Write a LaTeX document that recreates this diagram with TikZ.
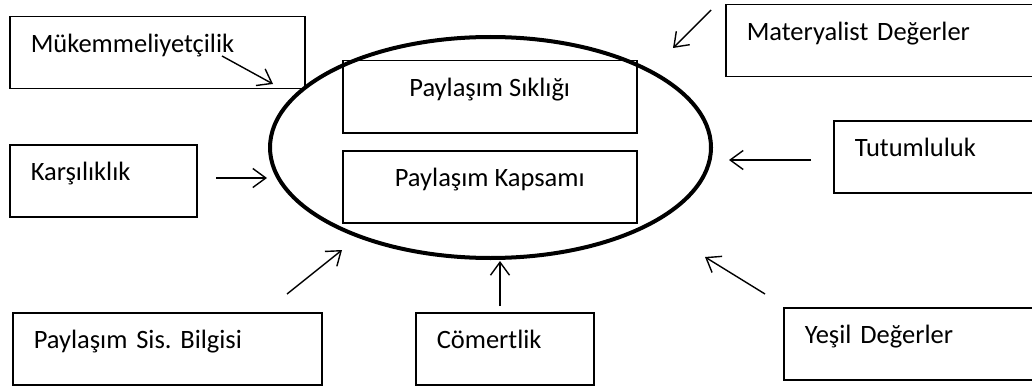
\documentclass[tikz,border=0pt]{standalone}
\usepackage{fontspec}
\setmainfont{Carlito}
\usepackage{tikz}
\usetikzlibrary{arrows.meta,shapes.geometric}

\tikzset{
  factor/.style={draw, line width=1.5pt, anchor=north west, align=left,
    text width=#1, inner xsep=21pt, inner ysep=0pt,
    text height=36pt, text depth=36pt, font=\fontsize{26.5}{30}\selectfont},
  inner/.style={draw, line width=1.5pt, anchor=north west, align=center,
    minimum width=294pt, inner ysep=0pt,
    text height=36pt, text depth=36pt, font=\fontsize{26.5}{30}\selectfont},
  effect/.style={-{Straight Barb[length=13pt,width=19pt]}, line width=1.4pt}
}

\begin{document}
\frenchspacing
\begin{tikzpicture}[x=1pt, y=-1pt]
\useasboundingbox (0,0) rectangle (1032,385);

% central construct
\node[draw, ellipse, line width=4pt, minimum width=441pt, minimum height=221pt] (paylasim) at (490.5,147.5) {};
\node[inner] (siklik) at (342,60) {Paylaşım Sıklığı};
\node[inner] (kapsam) at (342,150) {Paylaşım Kapsamı};

% antecedents
\node[factor=253pt] (muk) at (9,16) {Mükemmeliyetçilik};
\node[factor=145pt] (kars) at (9,144) {Karşılıklık};
\node[factor=267pt] (sis) at (12,312) {Paylaşım Sis. Bilgisi};
\node[factor=136pt] (comert) at (415,312) {Cömertlik};
\node[factor=273pt] (mat) at (725,4) {Materyalist Değerler};
\node[factor=173pt] (tutum) at (833,120) {Tutumluluk};
\node[factor=223pt] (yesil) at (783,307) {Yeşil Değerler};

% arrow ends
\coordinate (mukS) at (222,56);   \coordinate (mukT) at (273,84);
\coordinate (karsS) at (216,178); \coordinate (karsT) at (267,178);
\coordinate (sisS) at (287,294);  \coordinate (sisT) at (342,250);
\coordinate (comS) at (500,306);  \coordinate (comT) at (500,261);
\coordinate (yesS) at (765,294);  \coordinate (yesT) at (705,257);
\coordinate (tutS) at (811,160);  \coordinate (tutT) at (729,160);
\coordinate (matS) at (711,10);   \coordinate (matT) at (673,48);

\draw[effect] (mukS) -- (mukT);
\draw[effect] (karsS) -- (karsT);
\draw[effect] (sisS) -- (sisT);
\draw[effect] (comS) -- (comT);
\draw[effect] (yesS) -- (yesT);
\draw[effect] (tutS) -- (tutT);
\draw[effect] (matS) -- (matT);
\end{tikzpicture}
\end{document}
